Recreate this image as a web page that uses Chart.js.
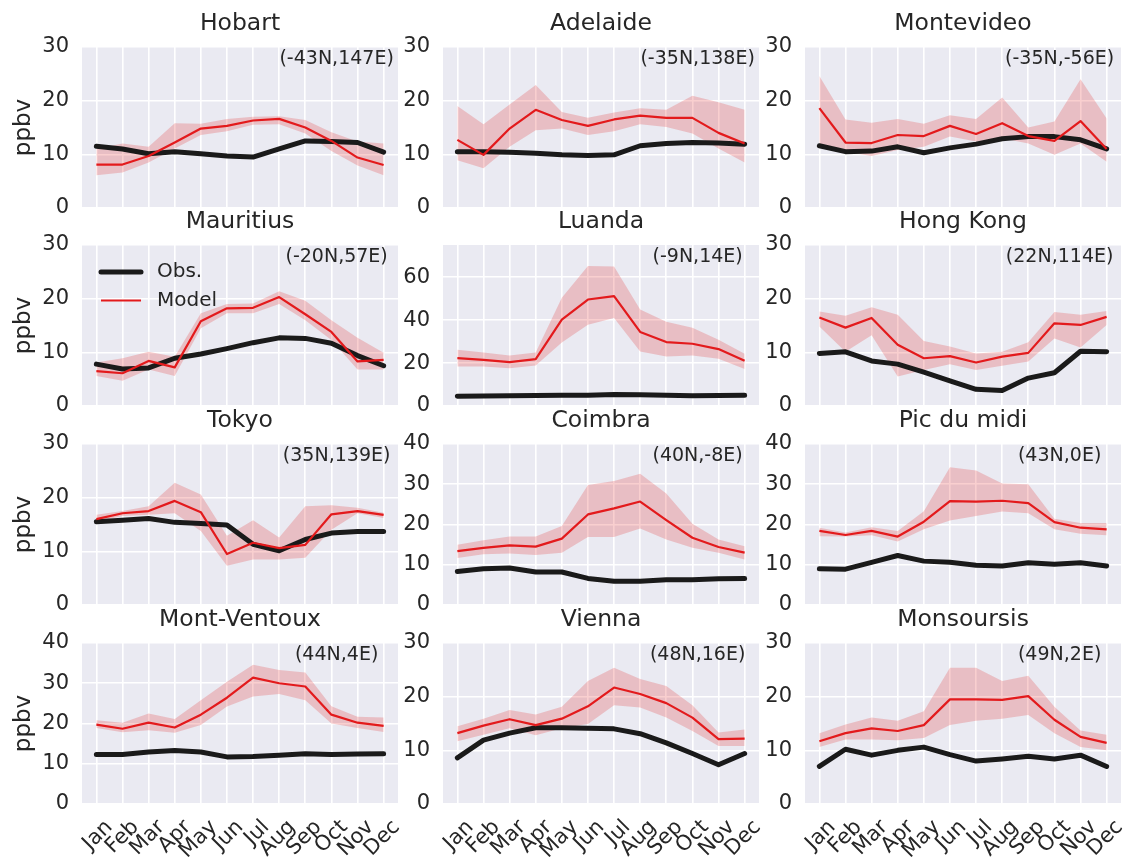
<!DOCTYPE html>
<html>
<head>
<meta charset="utf-8">
<script src="https://cdn.jsdelivr.net/npm/chart.js@4.4.1/dist/chart.umd.min.js"></script>
<style>
  html, body { margin: 0; padding: 0; background: #ffffff; }
  #fig { position: relative; width: 1127px; height: 866px; overflow: hidden; }
  #fig canvas { position: absolute; }
</style>
</head>
<body>
<div id="fig"></div>
<script>
// Month labels along the x axis
const months = ['Jan', 'Feb', 'Mar', 'Apr', 'May', 'Jun', 'Jul', 'Aug', 'Sep', 'Oct', 'Nov', 'Dec'];

// Station names and their locations
const stationNames = ['Hobart', 'Adelaide', 'Montevideo', 'Mauritius', 'Luanda', 'Hong Kong',
                      'Tokyo', 'Coimbra', 'Pic du midi', 'Mont-Ventoux', 'Vienna', 'Monsoursis'];
const stationCoords = ['(-43N,147E)', '(-35N,138E)', '(-35N,-56E)', '(-20N,57E)', '(-9N,14E)', '(22N,114E)',
                       '(35N,139E)', '(40N,-8E)', '(43N,0E)', '(44N,4E)', '(48N,16E)', '(49N,2E)'];

// y-axis upper limits and tick spacing (ppbv)
const yLimits = [30, 30, 30, 30, 75, 30, 30, 40, 40, 40, 30, 30];
const yTickSteps = [10, 10, 10, 10, 20, 10, 10, 10, 10, 10, 10, 10];

// Monthly mean ozone, observed and modelled, with the model spread (low/high)
const hobartObs    = [11.5, 11.0, 10.1, 10.5, 10.1, 9.7, 9.5, 11.0, 12.5, 12.4, 12.2, 10.4];
const hobartModel  = [8.1, 8.1, 9.7, 12.2, 14.8, 15.3, 16.3, 16.6, 15.0, 12.5, 9.4, 8.0];
const hobartLow    = [6.1, 6.6, 8.5, 11.1, 13.6, 14.3, 15.5, 15.6, 13.9, 10.6, 7.9, 6.1];
const hobartHigh   = [11.0, 12.0, 11.4, 15.8, 15.7, 16.6, 17.0, 17.1, 16.4, 14.1, 12.4, 12.0];

const adelaideObs   = [10.5, 10.5, 10.4, 10.2, 9.9, 9.8, 9.9, 11.6, 12.0, 12.2, 12.1, 11.9];
const adelaideModel = [12.7, 9.9, 14.8, 18.3, 16.4, 15.3, 16.5, 17.2, 16.8, 16.8, 14.0, 12.0];
const adelaideLow   = [8.9, 7.4, 11.4, 14.5, 14.8, 13.6, 14.3, 15.6, 15.1, 13.9, 11.1, 8.5];
const adelaideHigh  = [19.0, 15.6, 19.3, 22.9, 17.9, 16.8, 17.8, 18.6, 18.3, 20.9, 19.7, 18.3];

const montevideoObs   = [11.6, 10.5, 10.6, 11.4, 10.3, 11.2, 11.9, 12.9, 13.3, 13.3, 12.7, 11.0];
const montevideoModel = [18.6, 12.2, 12.1, 13.6, 13.4, 15.3, 13.8, 15.8, 13.4, 12.5, 16.2, 11.0];
const montevideoLow   = [11.4, 10.5, 9.7, 10.8, 11.4, 13.3, 12.4, 13.0, 12.0, 9.9, 12.0, 8.6];
const montevideoHigh  = [24.6, 16.5, 15.9, 16.6, 15.7, 17.3, 16.6, 20.6, 15.0, 16.1, 24.0, 16.7];

const mauritiusObs   = [7.8, 6.9, 7.1, 8.9, 9.7, 10.7, 11.8, 12.7, 12.6, 11.7, 9.4, 7.5];
const mauritiusModel = [6.5, 6.1, 8.4, 7.2, 15.8, 18.2, 18.3, 20.3, 17.1, 13.8, 8.3, 8.6];
const mauritiusLow   = [5.6, 4.7, 6.8, 5.6, 14.5, 17.3, 17.3, 19.0, 16.0, 12.3, 6.8, 6.8];
const mauritiusHigh  = [8.1, 8.9, 10.1, 9.2, 17.3, 19.0, 19.1, 21.4, 19.6, 16.0, 12.7, 9.9];

const luandaObs   = [4.6, 4.7, 4.8, 4.9, 5.0, 5.0, 5.3, 5.2, 5.0, 4.8, 4.9, 5.0];
const luandaModel = [22.3, 21.5, 20.4, 21.8, 40.2, 49.6, 51.2, 34.5, 29.8, 29.0, 26.5, 21.1];
const luandaLow   = [18.4, 18.4, 17.6, 18.9, 29.6, 37.9, 41.0, 25.4, 23.1, 23.5, 22.0, 17.2];
const luandaHigh  = [26.2, 24.9, 23.5, 24.9, 50.4, 65.2, 65.0, 44.9, 39.2, 36.4, 30.9, 24.3];

const hongKongObs   = [9.8, 10.1, 8.4, 7.8, 6.3, 4.7, 3.1, 2.9, 5.2, 6.2, 10.2, 10.1];
const hongKongModel = [16.5, 14.6, 16.4, 11.4, 8.9, 9.3, 8.1, 9.2, 9.9, 15.4, 15.1, 16.6];
const hongKongLow   = [14.8, 10.1, 13.2, 5.5, 6.7, 7.8, 6.7, 7.5, 8.3, 12.6, 10.9, 15.1];
const hongKongHigh  = [17.6, 16.8, 18.4, 17.0, 12.1, 11.1, 9.8, 10.1, 11.9, 17.5, 17.0, 17.7];

const tokyoObs   = [15.5, 15.8, 16.1, 15.4, 15.2, 14.9, 11.3, 10.1, 12.2, 13.4, 13.7, 13.7];
const tokyoModel = [16.0, 17.1, 17.5, 19.4, 17.3, 9.5, 11.6, 10.6, 11.2, 16.9, 17.5, 16.8];
const tokyoLow   = [15.5, 16.6, 16.8, 17.1, 13.8, 7.3, 8.5, 8.5, 8.8, 14.0, 17.1, 16.2];
const tokyoHigh  = [16.8, 17.5, 18.4, 22.8, 20.6, 12.9, 15.8, 12.6, 18.4, 18.6, 18.1, 17.2];

const coimbraObs   = [8.3, 9.0, 9.2, 8.2, 8.2, 6.6, 5.9, 5.9, 6.3, 6.3, 6.5, 6.6];
const coimbraModel = [13.4, 14.2, 14.8, 14.5, 16.5, 22.5, 24.0, 25.7, 21.1, 16.7, 14.4, 13.0];
const coimbraLow   = [11.7, 12.6, 12.8, 12.4, 13.0, 16.9, 16.9, 19.0, 16.3, 14.2, 13.0, 11.3];
const coimbraHigh  = [15.0, 16.1, 17.0, 17.0, 19.6, 29.8, 30.8, 32.6, 27.7, 20.2, 16.3, 14.6];

const picDuMidiObs   = [9.0, 8.9, 10.6, 12.3, 10.9, 10.6, 9.9, 9.7, 10.5, 10.1, 10.5, 9.7];
const picDuMidiModel = [18.4, 17.4, 18.4, 17.0, 20.7, 25.8, 25.7, 25.9, 25.3, 20.6, 19.2, 18.8];
const picDuMidiLow   = [17.1, 17.0, 17.3, 15.8, 18.8, 21.0, 22.1, 23.2, 22.8, 18.8, 17.7, 17.3];
const picDuMidiHigh  = [19.2, 18.0, 19.3, 18.4, 23.3, 34.2, 33.4, 30.2, 30.0, 21.4, 20.4, 20.4];

const ventouxObs   = [12.3, 12.3, 12.9, 13.3, 12.9, 11.7, 11.8, 12.1, 12.5, 12.3, 12.4, 12.5];
const ventouxModel = [19.7, 18.7, 20.2, 19.0, 22.2, 26.4, 31.4, 30.0, 29.2, 22.2, 20.2, 19.4];
const ventouxLow   = [18.9, 17.8, 18.3, 17.7, 19.6, 24.2, 26.7, 27.3, 25.8, 20.0, 18.9, 17.9];
const ventouxHigh  = [20.8, 20.2, 22.5, 21.1, 25.8, 30.4, 34.6, 33.3, 32.7, 24.3, 21.7, 21.5];

const viennaObs   = [8.6, 11.9, 13.2, 14.2, 14.2, 14.1, 14.0, 13.1, 11.4, 9.4, 7.3, 9.4];
const viennaModel = [13.2, 14.6, 15.8, 14.7, 15.9, 18.2, 21.7, 20.5, 18.8, 16.1, 12.1, 12.2];
const viennaLow   = [11.7, 12.9, 14.1, 12.8, 14.1, 14.9, 18.4, 18.0, 16.1, 13.6, 10.8, 10.8];
const viennaHigh  = [14.5, 15.9, 17.5, 16.7, 18.1, 22.9, 25.4, 23.3, 22.0, 18.4, 13.3, 13.9];

const monsoursisObs   = [7.0, 10.2, 9.1, 10.0, 10.6, 9.2, 8.0, 8.4, 8.9, 8.4, 9.1, 7.0];
const monsoursisModel = [11.7, 13.2, 14.1, 13.6, 14.7, 19.5, 19.5, 19.4, 20.1, 15.7, 12.5, 11.4];
const monsoursisLow   = [10.6, 12.0, 12.0, 11.9, 12.3, 14.7, 15.5, 15.9, 16.6, 13.2, 10.6, 10.0];
const monsoursisHigh  = [13.2, 14.8, 16.1, 15.5, 17.3, 25.4, 25.4, 22.9, 23.9, 18.1, 13.7, 12.9];

const obsSeries   = [hobartObs, adelaideObs, montevideoObs, mauritiusObs, luandaObs, hongKongObs,
                     tokyoObs, coimbraObs, picDuMidiObs, ventouxObs, viennaObs, monsoursisObs];
const modelSeries = [hobartModel, adelaideModel, montevideoModel, mauritiusModel, luandaModel, hongKongModel,
                     tokyoModel, coimbraModel, picDuMidiModel, ventouxModel, viennaModel, monsoursisModel];
const lowSeries   = [hobartLow, adelaideLow, montevideoLow, mauritiusLow, luandaLow, hongKongLow,
                     tokyoLow, coimbraLow, picDuMidiLow, ventouxLow, viennaLow, monsoursisLow];
const highSeries  = [hobartHigh, adelaideHigh, montevideoHigh, mauritiusHigh, luandaHigh, hongKongHigh,
                     tokyoHigh, coimbraHigh, picDuMidiHigh, ventouxHigh, viennaHigh, monsoursisHigh];

// ---- layout of the 4 x 3 grid of panels (pixels) ----
const FONT = 'DejaVu Sans';
const TEXT = '#262626';
const colLeft = [82, 443, 805];
const rowTop = [47, 245, 444, 643];
const PLOT_W = 316, PLOT_H = 161;
const TITLE_H = 41;          // 3.6 + 28.2 + 9.2
const RIGHT_PAD = 6;
const TICK_SIZE = 21;

Chart.defaults.font.family = FONT;
Chart.defaults.color = TEXT;

// grey plotting area behind the grid
const plotBackground = {
  id: 'plotBackground',
  beforeDraw(chart) {
    const a = chart.chartArea, ctx = chart.ctx;
    ctx.save();
    ctx.fillStyle = '#EAEAF2';
    ctx.fillRect(a.left, a.top, a.right - a.left, a.bottom - a.top);
    ctx.restore();
  }
};

// station location written in the upper right of each panel
const stationLabel = {
  id: 'stationLabel',
  afterDatasetsDraw(chart, args, opts) {
    const ctx = chart.ctx, a = chart.chartArea;
    ctx.save();
    ctx.font = '19px "' + FONT + '"';
    ctx.fillStyle = TEXT;
    ctx.textAlign = 'center';
    ctx.textBaseline = 'middle';
    ctx.fillText(opts.text, chart.scales.x.getPixelForValue(9.2), a.top + 12.5);
    ctx.restore();
  }
};

// legend drawn inside the plotting area (upper left)
const insideLegend = {
  id: 'insideLegend',
  afterDatasetsDraw(chart, args, opts) {
    if (!opts.show) return;
    const ctx = chart.ctx, a = chart.chartArea;
    const entries = [chart.data.datasets[1], chart.data.datasets[0]];
    entries.forEach((ds, k) => {
      const y = a.top + 27 + k * 28.5;
      ctx.save();
      ctx.strokeStyle = ds.borderColor;
      ctx.lineWidth = ds.borderWidth;
      ctx.lineCap = ds.borderCapStyle || 'butt';
      ctx.beginPath();
      ctx.moveTo(a.left + 19, y);
      ctx.lineTo(a.left + 59, y);
      ctx.stroke();
      ctx.fillStyle = TEXT;
      ctx.font = '20px "' + FONT + '"';
      ctx.textBaseline = 'middle';
      ctx.fillText(ds.label, a.left + 75, y);
      ctx.restore();
    });
  }
};

const fig = document.getElementById('fig');

stationNames.forEach((name, i) => {
  const row = Math.floor(i / 3), col = i % 3;
  const yAxisW = col === 0 ? 82 : 50;
  const xAxisH = row === 3 ? 62 : 30;
  const W = yAxisW + PLOT_W + RIGHT_PAD;
  const H = TITLE_H + PLOT_H + xAxisH;

  const canvas = document.createElement('canvas');
  canvas.width = W;
  canvas.height = H;
  canvas.style.left = (colLeft[col] - yAxisW) + 'px';
  canvas.style.top = (rowTop[row] - TITLE_H) + 'px';
  canvas.style.width = W + 'px';
  canvas.style.height = H + 'px';
  fig.appendChild(canvas);

  const pts = arr => arr.map((v, k) => ({ x: k, y: v }));

  new Chart(canvas, {
    type: 'line',
    data: {
      datasets: [
        { label: 'Model', data: pts(modelSeries[i]), borderColor: '#e31a1c', borderWidth: 2.2,
          pointRadius: 0, fill: false, order: 0, borderJoinStyle: 'round' },
        { label: 'Obs.', data: pts(obsSeries[i]), borderColor: '#1a1a1a', borderWidth: 5,
          pointRadius: 0, fill: false, order: 1, borderCapStyle: 'round', borderJoinStyle: 'round' },
        { label: 'Model high', data: pts(highSeries[i]), borderColor: 'rgba(0,0,0,0)', borderWidth: 1,
          pointRadius: 0, fill: '+1', backgroundColor: 'rgba(228,26,28,0.21)', order: 2 },
        { label: 'Model low', data: pts(lowSeries[i]), borderColor: 'rgba(0,0,0,0)', borderWidth: 1,
          pointRadius: 0, fill: false, order: 3 }
      ]
    },
    plugins: [plotBackground, stationLabel, insideLegend],
    options: {
      responsive: false,
      animation: false,
      devicePixelRatio: 1,
      layout: { padding: { top: 0, left: 0, right: RIGHT_PAD, bottom: 0 }, autoPadding: false },
      plugins: {
        legend: { display: false },
        tooltip: { enabled: false },
        title: { display: true, fullSize: false, text: name, color: TEXT,
                 font: { family: FONT, size: 23.5, weight: 'normal' },
                 padding: { top: 3.6, bottom: 9.2 } },
        stationLabel: { text: stationCoords[i] },
        insideLegend: { show: i === 3 }
      },
      scales: {
        x: {
          type: 'linear', min: -0.55, max: 11.55,
          afterFit: s => { s.height = xAxisH; s.paddingLeft = 0; s.paddingRight = 0; },
          border: { display: false },
          grid: { color: '#ffffff', lineWidth: 1.6, drawTicks: false },
          ticks: {
            display: row === 3, stepSize: 1, includeBounds: false, autoSkip: false,
            minRotation: 45, maxRotation: 45, padding: 11, labelOffset: 13,
            color: TEXT, font: { family: FONT, size: TICK_SIZE },
            callback: v => (Number.isInteger(v) && months[v]) ? months[v] : ''
          }
        },
        y: {
          min: 0, max: yLimits[i],
          afterFit: s => { s.width = yAxisW; },
          border: { display: false },
          grid: { color: '#ffffff', lineWidth: 1.6, drawTicks: false },
          ticks: { stepSize: yTickSteps[i], includeBounds: false, padding: 13,
                   color: TEXT, font: { family: FONT, size: TICK_SIZE } },
          title: { display: col === 0, text: 'ppbv', color: TEXT,
                   font: { family: FONT, size: 23 }, padding: { top: 10.5, bottom: 0 } }
        }
      }
    }
  });
});
</script>
</body>
</html>
